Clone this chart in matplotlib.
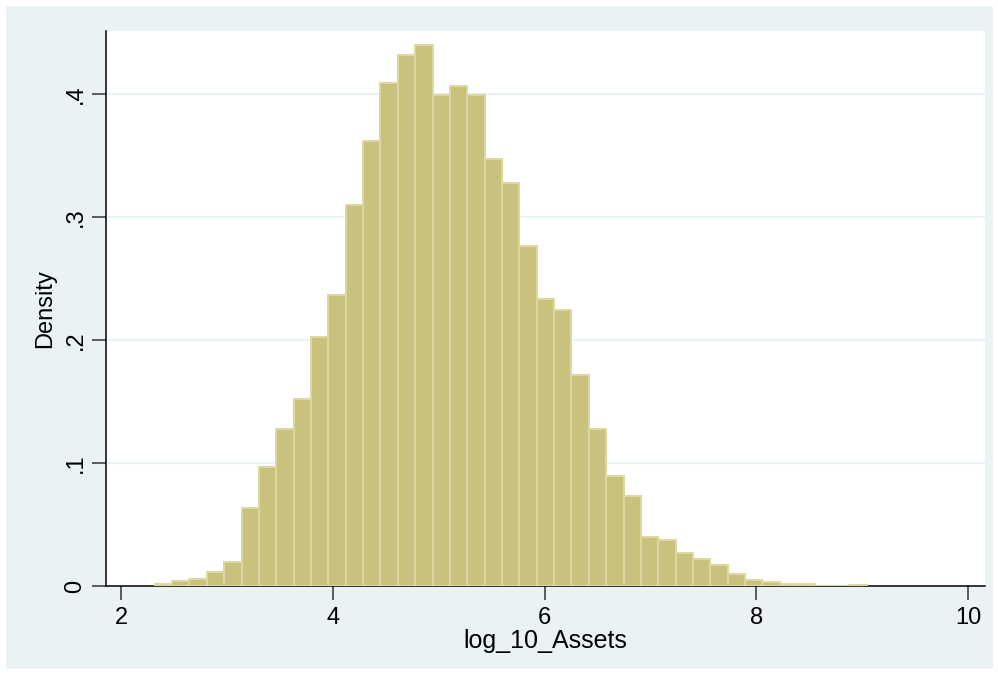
import numpy as np
import matplotlib
matplotlib.use("Agg")
import matplotlib.pyplot as plt
from matplotlib.patches import Rectangle

plt.rcParams['font.family'] = ['Liberation Sans', 'DejaVu Sans']

# histogram of log_10_Assets (density scale), 41 bins
bin_start = 2.318
bin_width = 0.164
density = [0.002, 0.004, 0.006, 0.0116, 0.0193, 0.0637, 0.0967, 0.1276, 0.1523,
           0.2027, 0.2366, 0.3102, 0.3618, 0.4087, 0.4315, 0.4398, 0.3995, 0.4065,
           0.3992, 0.347, 0.328, 0.2765, 0.2333, 0.2241, 0.1715, 0.1275, 0.0894,
           0.0734, 0.0398, 0.0374, 0.0268, 0.022, 0.0171, 0.0100, 0.0045, 0.003,
           0.002, 0.0015, 0.0, 0.0, 0.001]
x_ticks = [2, 4, 6, 8, 10]
y_ticks = [0, 0.1, 0.2, 0.3, 0.4]
y_ticklabels = ["0", ".1", ".2", ".3", ".4"]

bg = '#EAF2F3'
bar_face = '#C9C27D'
bar_edge = '#DDD7A1'

fig = plt.figure(figsize=(9.98, 6.75), dpi=100)
fig.patch.set_facecolor('white')
fig.add_artist(Rectangle((6 / 998, 6 / 675), 987 / 998, 663 / 675,
                         transform=fig.transFigure, facecolor=bg,
                         edgecolor='none', zorder=0))

ax = fig.add_axes([106 / 998, 1 - 586 / 675, 879 / 998, 555 / 675])
ax.set_facecolor('white')

lefts = bin_start + bin_width * np.arange(len(density))
ax.bar(lefts, density, width=bin_width, align='edge', color=bar_face,
       edgecolor=bar_edge, linewidth=1.4, zorder=3)

ax.set_xlim(1.858, 10.16)
ax.set_ylim(0, 0.4513)

for yv in y_ticks[1:]:
    ax.axhline(yv, color=bg, lw=1.6, zorder=1)

ax.set_xticks(x_ticks)
ax.set_xticklabels([str(v) for v in x_ticks])
ax.set_yticks(y_ticks)
ax.set_yticklabels(y_ticklabels, rotation=90, va='center')

ax.tick_params(axis='both', direction='out', length=10, width=1.1,
               color='#333333', labelsize=17, labelcolor='black')
ax.tick_params(axis='x', pad=5)
ax.tick_params(axis='y', pad=4)

for s in ['top', 'right']:
    ax.spines[s].set_visible(False)
for s in ['left', 'bottom']:
    ax.spines[s].set_color('black')
    ax.spines[s].set_linewidth(1.1)

ax.set_xlabel("log_10_Assets", fontsize=18, labelpad=0)
ax.set_ylabel("Density", fontsize=17, labelpad=6)

fig.savefig("out.png", dpi=100, facecolor='white')
